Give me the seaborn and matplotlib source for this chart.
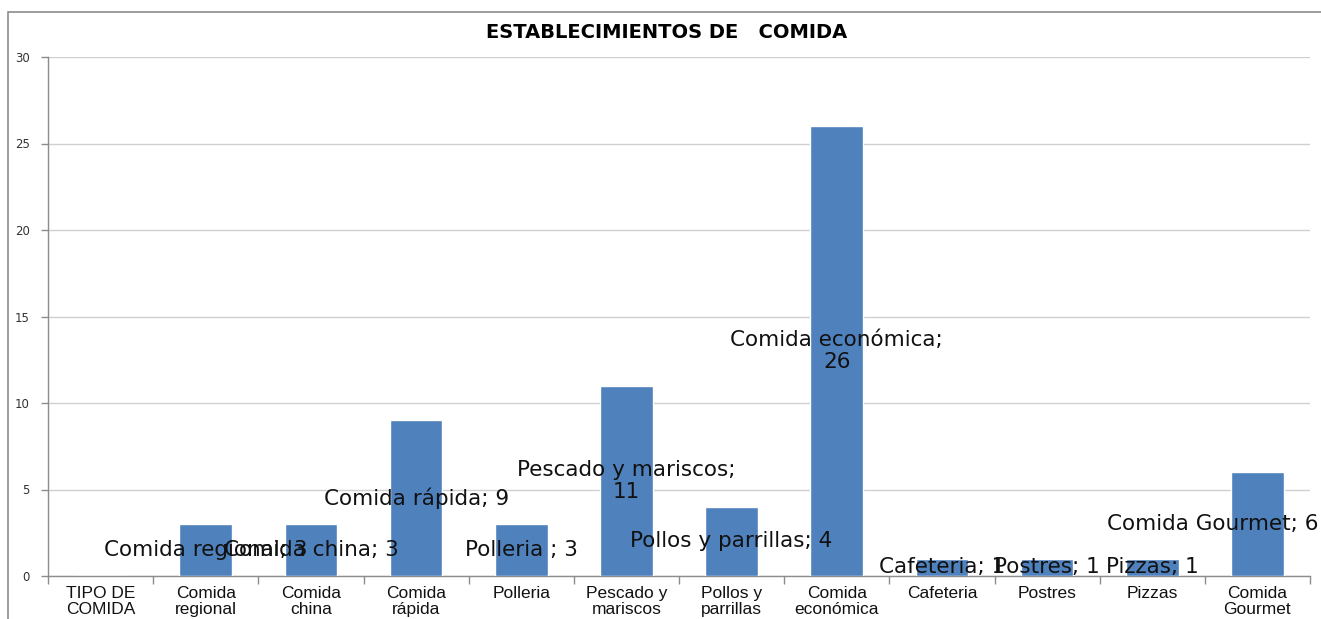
import matplotlib
matplotlib.use("Agg")

import matplotlib.pyplot as plt
import pandas as pd
import seaborn as sns
from matplotlib.patches import Rectangle
from matplotlib.ticker import FixedLocator

# ---------------------------------------------------------------------------
# DATA
# ---------------------------------------------------------------------------
CATEGORIES = ["TIPO DE\nCOMIDA", "Comida\nregional", "Comida\nchina", "Comida\nrápida",
              "Polleria", "Pescado y\nmariscos", "Pollos y\nparrillas", "Comida\neconómica",
              "Cafeteria", "Postres", "Pizzas", "Comida\nGourmet"]
VALUES = [0, 3, 3, 9, 3, 11, 4, 26, 1, 1, 1, 6]
LABEL_NAMES = [None, "Comida regional", "Comida china", "Comida rápida", "Polleria ",
               "Pescado y mariscos", "Pollos y parrillas", "Comida económica",
               "Cafeteria", "Postres", "Pizzas", "Comida Gourmet"]
WRAPPED = ["Pescado y mariscos", "Comida económica"]
TITLE = "ESTABLECIMIENTOS DE   COMIDA"
Y_TICKS = [0, 5, 10, 15, 20, 25, 30]

BAR_COLOR = "#4F81BD"

df = pd.DataFrame({"tipo": CATEGORIES, "valor": VALUES})

sns.set_style("white")
plt.rcParams["font.family"] = ["DejaVu Sans"]

fig = plt.figure(figsize=(13.21, 6.19), dpi=100)
ax = fig.add_axes([48 / 1321, 43 / 619, (1310 - 48) / 1321, (576 - 57) / 619])

# outer chart border (cropped at right / bottom like the original)
fig.patches.append(Rectangle((8 / 1321, -0.2), 1.2, 1.2 - 12 / 619,
                             transform=fig.transFigure, fill=False,
                             edgecolor="#8c8c8c", linewidth=1.2, zorder=0))

sns.barplot(data=df, x="tipo", y="valor", color=BAR_COLOR, width=0.5,
            saturation=1, ax=ax, zorder=3)

ax.set_xlim(-0.5, len(CATEGORIES) - 0.5)
ax.set_ylim(0, 30)
ax.set_yticks(Y_TICKS)
ax.set_yticklabels([str(t) for t in Y_TICKS], fontsize=8.5, color="#333333")
ax.yaxis.grid(True, color="#d0d0d0", linewidth=1, zorder=0)
ax.set_axisbelow(True)

# category boundary ticks, Excel style
ax.xaxis.set_minor_locator(FixedLocator([i - 0.5 for i in range(len(CATEGORIES) + 1)]))
ax.tick_params(axis="x", which="major", length=0, pad=7)
ax.tick_params(axis="x", which="minor", length=6, color="#8c8c8c", bottom=True, width=1)
ax.tick_params(axis="y", length=5, color="#8c8c8c", left=True, width=1, pad=8)
for lab in ax.get_xticklabels():
    lab.set_fontfamily("Liberation Sans")
    lab.set_fontsize(12.5)
    lab.set_linespacing(1.1)
    lab.set_color("#111111")

for side in ["top", "right"]:
    ax.spines[side].set_visible(False)
for side in ["left", "bottom"]:
    ax.spines[side].set_color("#8c8c8c")
    ax.spines[side].set_linewidth(1)

ax.set_xlabel("")
ax.set_ylabel("")

# data labels, centred in the bars (pushed back inside the figure if clipped)
fig.canvas.draw()
renderer = fig.canvas.get_renderer()
fig_w = fig.bbox.width
for i, (name, val) in enumerate(zip(LABEL_NAMES, VALUES)):
    if name is None:
        continue
    sep = ";\n" if name in WRAPPED else "; "
    t = ax.text(i, val / 2, f"{name}{sep}{val}", ha="center", va="center",
                fontsize=15.5, color="#111111", linespacing=1.1, zorder=5)
    bb = t.get_window_extent(renderer)
    if bb.x1 > fig_w - 2:
        shift = bb.x1 - (fig_w - 2)
        x_disp = ax.transData.transform((i, 0))[0] - shift
        t.set_x(ax.transData.inverted().transform((x_disp, 0))[0])

fig.text(667 / 1321, 1 - 32 / 619, TITLE, ha="center", va="center",
         fontsize=14, fontweight="bold", fontfamily="DejaVu Sans", color="black")

fig.savefig("out.png", dpi=100)
plt.close(fig)
